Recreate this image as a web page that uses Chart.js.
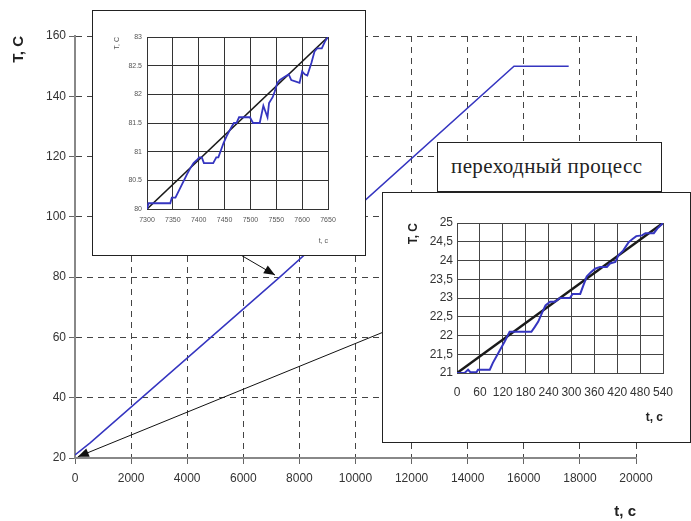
<!DOCTYPE html>
<html>
<head>
<meta charset="utf-8">
<script src="https://cdn.jsdelivr.net/npm/chart.js@4/dist/chart.umd.min.js"></script>
<style>
  body { margin: 0; background: #fff; }
  #wrap { position: relative; width: 691px; height: 521px; overflow: hidden; }
  #mainChart { position: absolute; left: 0; top: 0; }
  .inset { position: absolute; background: #fff; border: 1px solid #222; }
  .inset canvas { display: block; }
  #inset1 { left: 92px; top: 10px; }
  #inset2 { left: 382px; top: 192px; }
  #note {
    position: absolute; left: 437px; top: 142px; width: 225px; height: 51px;
    background: #fff; border: 1px solid #222; border-bottom-width: 2px; box-sizing: border-box;
    font: 21px "Liberation Serif", "Times New Roman", serif; color: #222; letter-spacing: 0.4px;
    line-height: 46px; padding-left: 13px;
  }
</style>
</head>
<body>
<div id="wrap">
  <canvas id="mainChart" width="691" height="521"></canvas>
  <div class="inset" id="inset1"><canvas id="chart1" width="272" height="244"></canvas></div>
  <div class="inset" id="inset2"><canvas id="chart2" width="307" height="249"></canvas></div>
  <div id="note">переходный процесс</div>
</div>
<script>
// ====================================
// Heating curve T(t) with two zoomed insets
// ====================================

// main curve (whole run)
const mainTime = [0, 540, 7300, 15650, 17600];
const mainTemp = [21, 25, 80, 150, 150];
const mainXTicks = [0, 20000, 2000];   // min, max, step
const mainYTicks = [20, 160, 20];

// inset 1 — section around 7300..7650 s
const time1 = [7300, 7303, 7345, 7348, 7355, 7377, 7383, 7390, 7396, 7401, 7406, 7410, 7428, 7434, 7438,
  7448, 7454, 7464, 7468, 7473, 7478, 7499, 7505, 7518, 7525, 7529, 7533, 7536, 7543, 7547, 7552,
  7557, 7565, 7574, 7579, 7595, 7600, 7605, 7610, 7618, 7624, 7629, 7638, 7644, 7650];
const temp1 = [80, 80.1, 80.1, 80.2, 80.2, 80.6, 80.7, 80.8, 80.85, 80.9, 80.9, 80.8, 80.8, 80.9, 80.9,
  81.15, 81.27, 81.44, 81.5, 81.5, 81.6, 81.6, 81.5, 81.5, 81.8, 81.7, 81.6, 81.85, 81.95, 82.05, 82.2,
  82.25, 82.3, 82.35, 82.25, 82.2, 82.4, 82.35, 82.33, 82.55, 82.75, 82.8, 82.8, 82.92, 83];
const trend1Time = [7300, 7650];
const trend1Temp = [80, 83];

// inset 2 — start-up (transient) 0..540 s
const time2 = [0, 20, 29, 35, 51, 55, 86, 94, 112, 125, 138, 156, 195, 204, 213, 224, 232, 244, 257, 270,
  296, 303, 323, 331, 340, 351, 362, 375, 393, 401, 415, 423, 436, 450, 461, 470, 485, 494, 516, 525, 540];
const temp2 = [21, 21, 21.09, 21.02, 21.02, 21.09, 21.09, 21.27, 21.6, 21.84, 22.1, 22.1, 22.1, 22.23, 22.37,
  22.63, 22.8, 22.9, 22.9, 23.0, 23.0, 23.11, 23.11, 23.33, 23.57, 23.69, 23.78, 23.83, 23.83, 23.92, 23.96,
  24.14, 24.27, 24.49, 24.58, 24.65, 24.67, 24.73, 24.73, 24.85, 25];
const trend2Time = [0, 540];
const trend2Temp = [21, 25];

const BLUE = '#3535c0';
Chart.defaults.font.family = '"Liberation Sans", Arial, sans-serif';
Chart.defaults.animation = false;
Chart.defaults.plugins.legend.display = false;
Chart.defaults.plugins.tooltip.enabled = false;

function toXY(xs, ys) {
  return xs.map((x, i) => ({ x: x, y: ys[i] }));
}

// arrows: from a fixed spot on an inset box, tip at a data point
const arrows = [
  { from: [386, 331], to: [100, 20.4] },
  { from: [239, 254], to: [7130, 80.7] }
];

const arrowPlugin = {
  id: 'arrows',
  afterDatasetsDraw(chart) {
    const ctx = chart.ctx;
    const xs = chart.scales.x, ys = chart.scales.y;
    ctx.save();
    ctx.strokeStyle = '#111';
    ctx.fillStyle = '#111';
    ctx.lineWidth = 1;
    arrows.forEach(a => {
      const x0 = a.from[0], y0 = a.from[1];
      const x1 = xs.getPixelForValue(a.to[0]), y1 = ys.getPixelForValue(a.to[1]);
      const ang = Math.atan2(y1 - y0, x1 - x0);
      ctx.beginPath();
      ctx.moveTo(x0, y0);
      ctx.lineTo(x1, y1);
      ctx.stroke();
      const len = 11, half = 4.5;
      ctx.beginPath();
      ctx.moveTo(x1, y1);
      ctx.lineTo(x1 - len * Math.cos(ang) + half * Math.sin(ang), y1 - len * Math.sin(ang) - half * Math.cos(ang));
      ctx.lineTo(x1 - len * Math.cos(ang) - half * Math.sin(ang), y1 - len * Math.sin(ang) + half * Math.cos(ang));
      ctx.closePath();
      ctx.fill();
    });
    ctx.restore();
  }
};

// ---------- MAIN CHART ----------
new Chart(document.getElementById('mainChart'), {
  type: 'scatter',
  data: {
    datasets: [{
      data: toXY(mainTime, mainTemp),
      showLine: true,
      borderColor: BLUE,
      borderWidth: 1.5,
      pointRadius: 0
    }]
  },
  options: {
    responsive: false,
    layout: { padding: { left: 10, top: 36, right: 55, bottom: 0 } },
    scales: {
      x: {
        type: 'linear', min: mainXTicks[0], max: mainXTicks[1],
        afterFit: s => { s.height = 63; },
        ticks: { stepSize: mainXTicks[2], maxRotation: 0, autoSkip: false, padding: 7,
          color: '#333', font: { size: 12 }, callback: v => String(v) },
        grid: { color: '#444', lineWidth: 1, tickLength: 6, tickColor: '#666' },
        border: { dash: [6, 5], color: '#888', width: 2 },
        title: { display: true, text: 't, c', align: 'end', color: '#222',
          font: { size: 15, weight: 'bold' }, padding: 0 }
      },
      y: {
        type: 'linear', min: mainYTicks[0], max: mainYTicks[1],
        afterFit: s => { s.width = 65; },
        ticks: { stepSize: mainYTicks[2], padding: 3, color: '#333', font: { size: 12 },
          callback: v => String(v) },
        grid: { color: '#444', lineWidth: 1, tickLength: 6, tickColor: '#666' },
        border: { dash: [6, 5], color: '#888', width: 2 },
        title: { display: true, text: 'T, C', align: 'end', color: '#222',
          font: { size: 15, weight: 'bold' }, padding: 0 }
      }
    }
  },
  plugins: [arrowPlugin]
});

// ---------- INSET 1 ----------
new Chart(document.getElementById('chart1'), {
  type: 'scatter',
  data: {
    datasets: [
      { data: toXY(time1, temp1), showLine: true, borderColor: BLUE, borderWidth: 1.8, pointRadius: 0 },
      { data: toXY(trend1Time, trend1Temp), showLine: true, borderColor: '#1a1a1a', borderWidth: 1.6, pointRadius: 0 }
    ]
  },
  options: {
    responsive: false,
    layout: { padding: { left: 20, top: 26, right: 37, bottom: 10 } },
    scales: {
      x: {
        type: 'linear', min: 7300, max: 7650,
        afterFit: s => { s.height = 36; },
        ticks: { stepSize: 50, maxRotation: 0, autoSkip: false, padding: 7, color: '#555',
          font: { size: 7 }, callback: v => String(v) },
        grid: { color: '#333', lineWidth: 1, drawTicks: false },
        border: { color: '#333', width: 1 },
        title: { display: true, text: 't, c', align: 'end', color: '#555', font: { size: 7 }, padding: 0 }
      },
      y: {
        type: 'linear', min: 80, max: 83,
        afterFit: s => { s.width = 34; },
        ticks: { stepSize: 0.5, padding: 5, color: '#555', font: { size: 7 }, callback: v => String(v) },
        grid: { color: '#333', lineWidth: 1, drawTicks: false },
        border: { color: '#333', width: 1 },
        title: { display: true, text: 'T, C', align: 'end', color: '#555', font: { size: 7 }, padding: 0 }
      }
    }
  }
});

// ---------- INSET 2 ----------
new Chart(document.getElementById('chart2'), {
  type: 'scatter',
  data: {
    datasets: [
      { data: toXY(time2, temp2), showLine: true, borderColor: BLUE, borderWidth: 2, pointRadius: 0 },
      { data: toXY(trend2Time, trend2Temp), showLine: true, borderColor: '#1a1a1a', borderWidth: 2.5, pointRadius: 0 }
    ]
  },
  options: {
    responsive: false,
    layout: { padding: { left: 23, top: 30, right: 27, bottom: 17 } },
    scales: {
      x: {
        type: 'linear', min: 0, max: 540,
        afterFit: s => { s.height = 52; },
        ticks: { stepSize: 60, maxRotation: 0, autoSkip: false, padding: 12, color: '#333',
          font: { size: 12 }, callback: v => String(v) },
        grid: { color: '#444', lineWidth: 1, drawTicks: false },
        border: { color: '#444', width: 1 },
        title: { display: true, text: 't, c', align: 'end', color: '#222',
          font: { size: 12, weight: 'bold' }, padding: 0 }
      },
      y: {
        type: 'linear', min: 21, max: 25,
        afterFit: s => { s.width = 51; },
        ticks: { stepSize: 0.5, padding: 4, color: '#333', font: { size: 12 },
          callback: v => String(v).replace('.', ',') },
        grid: { color: '#444', lineWidth: 1, drawTicks: false },
        border: { color: '#444', width: 1 },
        title: { display: true, text: 'T, C', align: 'end', color: '#222',
          font: { size: 12, weight: 'bold' }, padding: 0 }
      }
    }
  }
});
</script>
</body>
</html>
